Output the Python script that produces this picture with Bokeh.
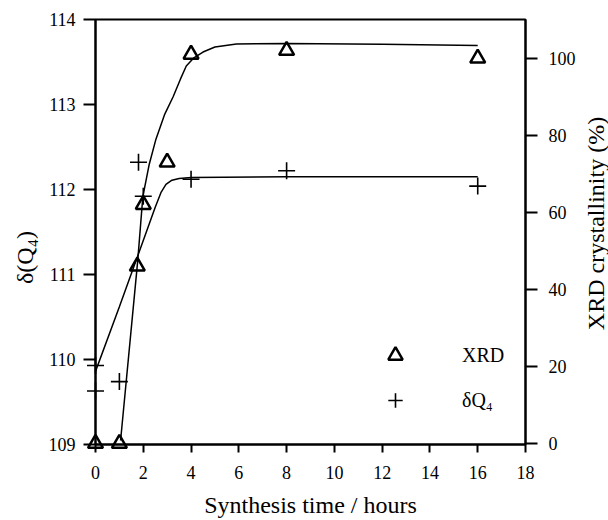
import math
from bokeh.plotting import figure
from bokeh.layouts import row
from bokeh.models import Range1d, LinearAxis, FixedTicker, Legend, LegendItem
from bokeh.core.properties import value
from bokeh.embed import file_html
from bokeh.resources import INLINE

# Measured points
xrd_time = [0, 1, 1.75, 2, 3, 4, 8, 16]
xrd_cryst = [0, 0, 46, 62, 73, 101, 102, 100]

dq4_time = [0, 0, 1, 1.8, 2, 4, 8, 16]
dq4_shift = [109.93, 109.63, 109.74, 112.32, 111.92, 112.12, 112.22, 112.04]

# Smoothed trend curves
xrd_fit_time = [1.05, 1.77, 1.98, 2.25, 2.53, 2.9, 3.25, 3.55, 3.8, 4.1, 4.5, 5.0, 5.9, 8, 12, 16]
xrd_fit_cryst = [0.8, 47.6, 64, 72.5, 79, 85.5, 90, 94.5, 98, 100, 101.6, 102.9, 103.7, 103.8, 103.6, 103.3]

dq4_fit_time = [0, 1, 2, 2.5, 2.75, 2.95, 3.2, 3.5, 4, 8, 16]
dq4_fit_shift = [109.86, 110.62, 111.4, 111.79, 111.97, 112.06, 112.11, 112.13, 112.14, 112.15, 112.15]

x_ticks = [0, 2, 4, 6, 8, 10, 12, 14, 16, 18]
left_ticks = [109, 110, 111, 112, 113, 114]
right_ticks = [0, 20, 40, 60, 80, 100]

left_title_text = "δ(Q₄)"
right_title_text = "XRD crystallinity (%)"

FONT = "Liberation Serif"

p = figure(width=538, height=520, output_backend="svg", toolbar_location=None,
           x_range=Range1d(0, 18), y_range=Range1d(109, 114),
           min_border_left=55, min_border_right=52, min_border_top=19, min_border_bottom=73)
p.extra_y_ranges = {"pct": Range1d(-0.25, 110.05)}

p.grid.visible = False
p.background_fill_color = "white"
p.border_fill_color = "white"
p.outline_line_color = "black"
p.outline_line_width = 2

# Axes styling
def style_axis(ax, ticks):
    ax.ticker = FixedTicker(ticks=ticks)
    ax.axis_line_width = 2
    ax.axis_line_color = "black"
    ax.major_tick_line_width = 2
    ax.major_tick_line_color = "black"
    ax.major_tick_in = 0
    ax.minor_tick_line_color = None
    ax.major_label_text_font = FONT
    ax.major_label_text_font_size = "18px"
    ax.major_label_text_color = "black"
    ax.axis_label_text_font = FONT
    ax.axis_label_text_font_size = "24px"
    ax.axis_label_text_font_style = "normal"
    ax.axis_label_text_color = "black"

xa = p.xaxis[0]
style_axis(xa, x_ticks)
xa.major_tick_out = 8
xa.major_label_standoff = 13
xa.axis_label = "Synthesis time / hours"
xa.axis_label_standoff = 10

ya = p.yaxis[0]
style_axis(ya, left_ticks)
ya.major_tick_out = 12
ya.major_label_standoff = 8

ra = LinearAxis(y_range_name="pct")
style_axis(ra, right_ticks)
ra.major_tick_out = 12
ra.major_label_standoff = 11
p.add_layout(ra, "right")

# Trend curves
p.line(xrd_fit_time, xrd_fit_cryst, y_range_name="pct", line_color="black", line_width=1.5)
p.line(dq4_fit_time, dq4_fit_shift, line_color="black", line_width=1.5)

# Data points (drawn on the overlay level so marks on the axes are not cut off)
r_xrd = p.scatter(xrd_time, xrd_cryst, y_range_name="pct", marker="triangle", size=15,
                  fill_color=None, line_color="black", line_width=2.5, level="overlay")
r_dq4 = p.scatter(dq4_time, dq4_shift, marker="cross", size=17,
                  line_color="black", line_width=1.6, level="overlay")

legend = Legend(items=[LegendItem(label="XRD", renderers=[r_xrd]),
                       LegendItem(label="δQ₄", renderers=[r_dq4])],
                location=(282, 26), orientation="vertical",
                background_fill_alpha=0, border_line_color=None,
                padding=0, spacing=9, label_standoff=49,
                glyph_width=36, glyph_height=36, label_height=20,
                label_text_font=FONT, label_text_font_size="20px", label_text_color="black")
p.add_layout(legend)


# Narrow side strips carrying the vertical axis titles (both read bottom to top)
def title_strip(width, text, cx, cy):
    s = figure(width=width, height=520, output_backend="svg", toolbar_location=None,
               x_range=Range1d(0, 1), y_range=Range1d(0, 1),
               x_axis_type=None, y_axis_type=None, min_border=0,
               min_border_left=0, min_border_right=0, min_border_top=0, min_border_bottom=0)
    s.outline_line_color = None
    s.background_fill_color = "white"
    s.border_fill_color = "white"
    s.text(x=[cx], y=[cy], text=[text], angle=math.pi / 2,
           text_align="center", text_baseline="middle",
           text_font=value(FONT), text_font_size="24px", text_color="black", level="overlay")
    return s


left_strip = title_strip(40, left_title_text, 0.62, 0.44)
right_strip = title_strip(34, right_title_text, 0.5, 0.52)

layout = row(left_strip, p, right_strip, spacing=0)

open("out.html", "w").write(file_html(layout, INLINE))
